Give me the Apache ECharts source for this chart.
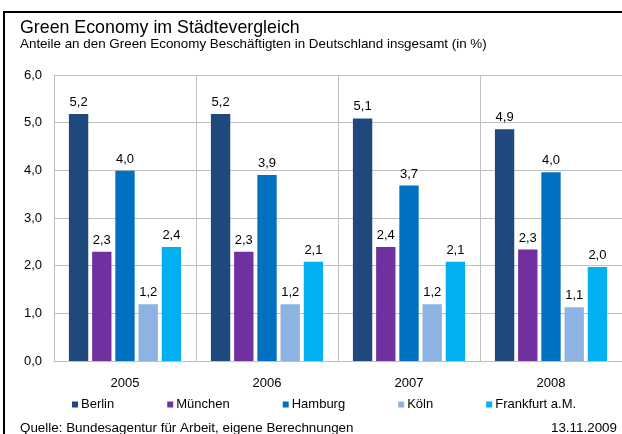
<!DOCTYPE html>
<html lang="de">
<head>
<meta charset="utf-8">
<title>Green Economy im Städtevergleich</title>
<script src="https://cdn.jsdelivr.net/npm/echarts@6/dist/echarts.min.js"></script>
<style>
  html, body { margin: 0; padding: 0; background: #fff; }
  #chart { width: 622px; height: 434px; }
</style>
</head>
<body>
<div id="chart"></div>
<script>
const years = ["2005", "2006", "2007", "2008"];
const cities = ["Berlin", "München", "Hamburg", "Köln", "Frankfurt a.M."];
const berlin = [5.18, 5.18, 5.09, 4.86];
const muenchen = [2.29, 2.29, 2.39, 2.34];
const hamburg = [3.99, 3.90, 3.68, 3.96];
const koeln = [1.19, 1.19, 1.19, 1.13];
const frankfurt = [2.39, 2.08, 2.08, 1.97];
const colors = ["#1F497D", "#7030A0", "#0070C0", "#8DB3E2", "#00B0F0"];

const font = "'Liberation Sans', Arial, sans-serif";
// Zahlen mit Komma wie im Original
const fmt = (v) => v.toFixed(1).replace(".", ",");

const myChart = echarts.init(document.getElementById("chart"));

const seriesData = [berlin, muenchen, hamburg, koeln, frankfurt];

const option = {
  backgroundColor: "#fff",
  animation: false,
  color: colors,
  textStyle: { fontFamily: font },
  grid: {
    left: 54,
    right: 0,
    top: 75,
    bottom: 73
  },
  legend: {
    left: 72,
    top: 398,
    padding: 0,
    itemWidth: 6,
    itemHeight: 6,
    itemGap: 53,
    icon: "rect",
    textStyle: { color: "#000", fontSize: 13, fontFamily: font, padding: [0, 0, 0, -2] },
    data: cities
  },
  xAxis: {
    type: "category",
    data: years,
    axisTick: { show: false },
    axisLine: { lineStyle: { color: "#BFBFBF", width: 1 } },
    axisLabel: { color: "#000", fontSize: 13, margin: 16 },
    splitLine: { show: true, lineStyle: { color: "#BFBFBF", width: 1 } }
  },
  yAxis: {
    type: "value",
    min: 0,
    max: 6,
    interval: 1,
    axisLine: { show: true, lineStyle: { color: "#BFBFBF", width: 1 } },
    axisTick: { show: false },
    axisLabel: { color: "#000", fontSize: 13, margin: 12, formatter: (v) => fmt(v) },
    splitLine: { lineStyle: { color: "#BFBFBF", width: 1 } }
  },
  series: cities.map((name, i) => ({
    name: name,
    type: "bar",
    barGap: "20%",
    barCategoryGap: "21%",
    data: seriesData[i],
    label: {
      show: true,
      position: "top",
      distance: 5,
      color: "#000",
      fontSize: 13,
      fontFamily: font,
      formatter: (p) => fmt(p.value)
    }
  })),
  graphic: [
    // Rahmen links/oben
    {
      type: "polyline",
      shape: { points: [[4, 434], [4, 12], [622, 12]] },
      style: { stroke: "#000", lineWidth: 2, fill: null }
    },
    {
      type: "text",
      left: 20,
      top: 19,
      style: { text: "Green Economy im Städtevergleich", fill: "#000", font: "17.8px " + font }
    },
    {
      type: "text",
      left: 20,
      top: 38,
      style: { text: "Anteile an den Green Economy Beschäftigten in Deutschland insgesamt (in %)", fill: "#000", font: "13.4px " + font }
    },
    {
      type: "text",
      left: 20,
      top: 422,
      style: { text: "Quelle: Bundesagentur für Arbeit, eigene Berechnungen", fill: "#000", font: "13.4px " + font }
    },
    {
      type: "text",
      right: 5,
      top: 422,
      style: { text: "13.11.2009", fill: "#000", font: "13.4px " + font }
    }
  ]
};

option && myChart.setOption(option);
</script>
</body>
</html>
